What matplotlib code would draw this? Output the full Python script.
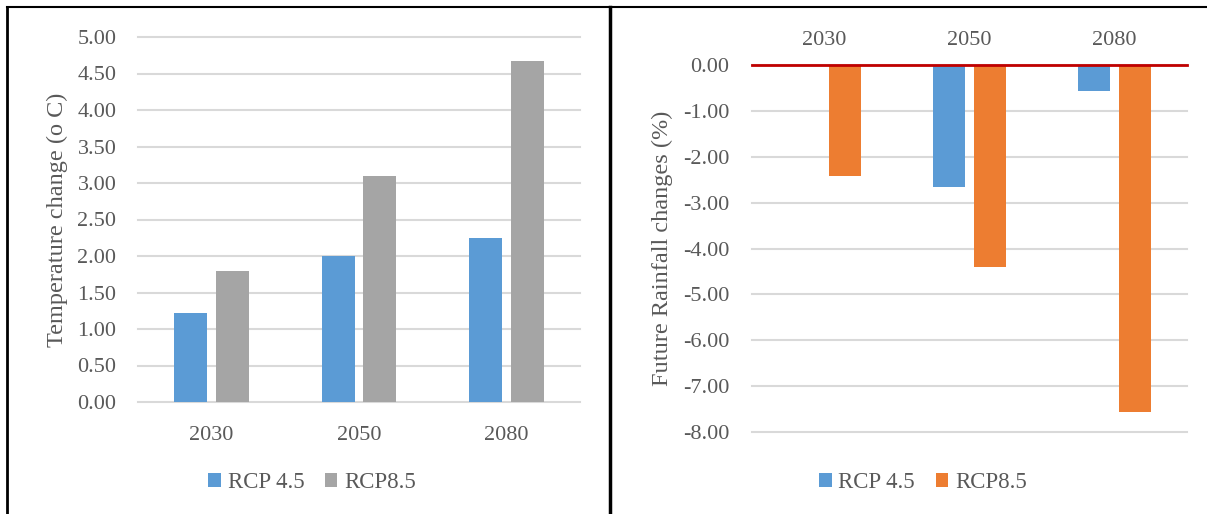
import numpy as np
import matplotlib.pyplot as plt
from matplotlib.lines import Line2D

plt.rcParams['font.family'] = ['Liberation Serif', 'DejaVu Serif']

years = ['2030', '2050', '2080']
temp_rcp45 = [1.22, 2.00, 2.25]
temp_rcp85 = [1.79, 3.10, 4.67]
rain_rcp45 = [0.0, -2.66, -0.57]
rain_rcp85 = [-2.42, -4.40, -7.57]

BLUE = '#5B9BD5'
GRAY = '#A5A5A5'
ORANGE = '#ED7D31'
TXT = '#595959'
GRID = '#D9D9D9'

fig = plt.figure(figsize=(12.07, 5.14), dpi=100)
W, H = 1207.0, 514.0

def style(ax):
    for s in ax.spines.values():
        s.set_visible(False)
    ax.tick_params(axis='both', length=0, labelsize=16, labelcolor=TXT)
    ax.grid(axis='y', color=GRID, linewidth=1.5)
    ax.set_axisbelow(True)

def add_legend(ax, cx):
    ax.legend(loc='center', bbox_to_anchor=(cx / W, 1 - 483 / H),
              bbox_transform=fig.transFigure, ncol=2, frameon=False,
              fontsize=16.5, labelcolor=TXT, handlelength=0.55,
              handleheight=0.55, handletextpad=0.3, columnspacing=0.9)

x = np.arange(len(years))
bw = 0.224
off = 0.1425

# left chart: temperature
ax1 = fig.add_axes([138 / W, 1 - 402 / H, 442 / W, 365 / H])
style(ax1)
ax1.bar(x - off, temp_rcp45, bw, color=BLUE, label='RCP 4.5')
ax1.bar(x + off, temp_rcp85, bw, color=GRAY, label='RCP8.5')
ax1.set_xlim(-0.5, 2.5)
ax1.set_ylim(0, 5)
yt1 = np.arange(0, 5.01, 0.5)
ax1.set_yticks(yt1)
ax1.set_yticklabels(['%.2f' % v for v in yt1])
ax1.set_xticks(x)
ax1.set_xticklabels(years)
ax1.tick_params(axis='y', pad=15.5)
ax1.tick_params(axis='x', pad=17)
for gl in ax1.get_ygridlines():
    gl.set_clip_on(False)
ax1.set_ylabel('Temperature change (o C)', fontsize=17.5, color=TXT, labelpad=7)
add_legend(ax1, 312)

# right chart: rainfall
ax2 = fig.add_axes([752 / W, 1 - 432 / H, 435 / W, 367 / H])
style(ax2)
ax2.bar(x - off, rain_rcp45, bw, color=BLUE, label='RCP 4.5')
ax2.bar(x + off, rain_rcp85, bw, color=ORANGE, label='RCP8.5')
ax2.set_xlim(-0.5, 2.5)
ax2.set_ylim(-8, 0)
yt2 = np.arange(-8, 0.01, 1.0)
ax2.set_yticks(yt2)
ax2.set_yticklabels(['%.2f' % v for v in yt2])
ax2.xaxis.tick_top()
ax2.set_xticks(x)
ax2.set_xticklabels(years)
ax2.tick_params(axis='y', pad=16.5)
ax2.tick_params(axis='x', pad=11)
for gl in ax2.get_ygridlines():
    gl.set_clip_on(False)
ax2.axhline(0, color='#C00000', linewidth=2, clip_on=False, zorder=3)
ax2.set_ylabel('Future Rainfall changes (%)', fontsize=17.5, color=TXT, labelpad=7)
add_legend(ax2, 923)

# frame lines around the panels
fig.add_artist(Line2D([7 / W, 1], [1 - 7 / H, 1 - 7 / H], color='black', linewidth=1.5))
fig.add_artist(Line2D([7 / W, 7 / W], [0, 1 - 7 / H], color='black', linewidth=2))
fig.add_artist(Line2D([610 / W, 610 / W], [0, 1 - 7 / H], color='black', linewidth=2.5))

fig.savefig('out.png', dpi=100)
